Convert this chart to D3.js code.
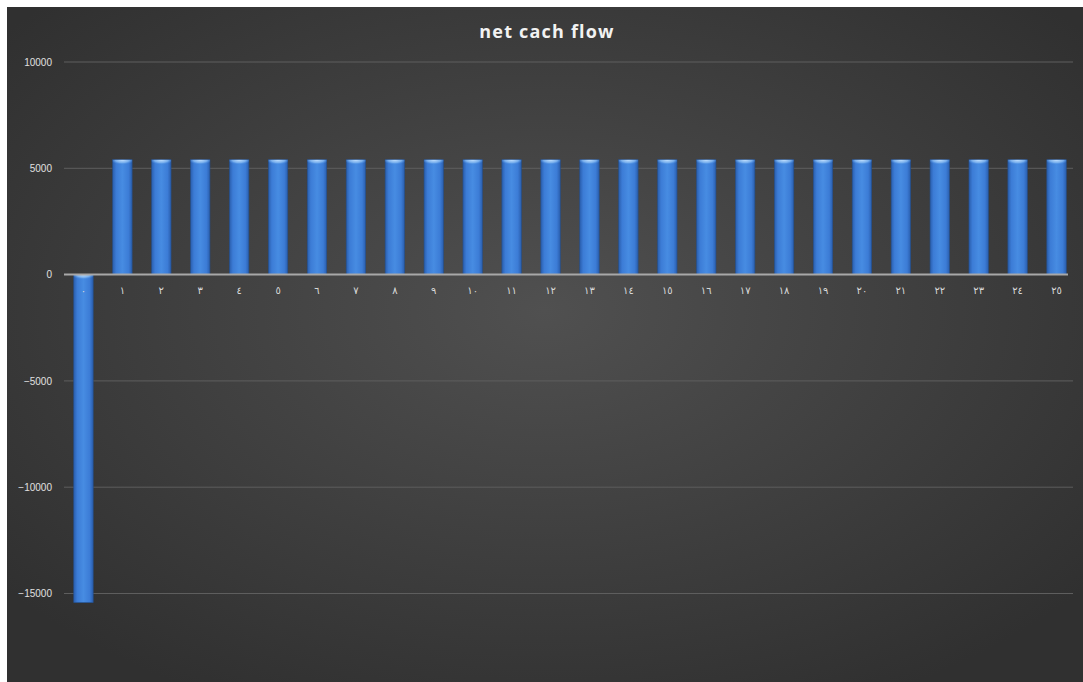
<!DOCTYPE html>
<html><head><meta charset="utf-8">
<script src="https://cdn.jsdelivr.net/npm/d3@7"></script>
<style>html,body{margin:0;padding:0;background:#fff;}svg{display:block;}</style>
</head><body>
<script>
const title = "net cach flow";
const categories = ["٠","١","٢","٣","٤","٥","٦","٧","٨","٩","١٠","١١","١٢","١٣","١٤","١٥","١٦","١٧","١٨","١٩","٢٠","٢١","٢٢","٢٣","٢٤","٢٥"];
const values = [-15430,5400,5400,5400,5400,5400,5400,5400,5400,5400,5400,5400,5400,5400,5400,5400,5400,5400,5400,5400,5400,5400,5400,5400,5400,5400];
const yTicks = [-15000,-10000,-5000,0,5000,10000];

const W = 1083, H = 682;
const svg = d3.select("body").append("svg").attr("width", W).attr("height", H);
const defs = svg.append("defs");

const bg = defs.append("radialGradient").attr("id","bg").attr("cx","50%").attr("cy","45%").attr("r","65%");
bg.append("stop").attr("offset","0%").attr("stop-color","#505050");
bg.append("stop").attr("offset","100%").attr("stop-color","#303030");

const bar = defs.append("linearGradient").attr("id","bar").attr("x1","0").attr("x2","1").attr("y1","0").attr("y2","0");
bar.append("stop").attr("offset","0%").attr("stop-color","#2a5ead");
bar.append("stop").attr("offset","18%").attr("stop-color","#3c7cd6");
bar.append("stop").attr("offset","50%").attr("stop-color","#478ce2");
bar.append("stop").attr("offset","82%").attr("stop-color","#3c7cd6");
bar.append("stop").attr("offset","100%").attr("stop-color","#2a5ead");

const cap = defs.append("radialGradient").attr("id","cap").attr("cx","50%").attr("cy","0%").attr("r","60%");
cap.append("stop").attr("offset","0%").attr("stop-color","#c8e4ff");
cap.append("stop").attr("offset","60%").attr("stop-color","#84b8f0").attr("stop-opacity",0.85);
cap.append("stop").attr("offset","100%").attr("stop-color","#478ce2").attr("stop-opacity",0);

svg.append("rect").attr("x",7).attr("y",7).attr("width",W-7).attr("height",H-7).attr("fill","url(#bg)");

const x = d3.scaleBand().domain(categories).range([64, 1076]).paddingInner(0.5).paddingOuter(0.25);
const y = d3.scaleLinear().domain([-20000, 10000]).range([699.8, 62]);

const g = svg.append("g");
g.selectAll("line.grid").data(yTicks.filter(d=>d!==0)).join("line")
  .attr("x1",64).attr("x2",1073)
  .attr("y1",d=>y(d)).attr("y2",d=>y(d))
  .attr("stroke","#5e5e5e").attr("stroke-width",1);

const yAxis = d3.axisLeft(y).tickValues(yTicks).tickSize(0).tickPadding(0).tickFormat(d3.format("d"));
const ya = svg.append("g").attr("transform","translate(52,0)").call(yAxis);
ya.select(".domain").remove();
ya.selectAll("text").attr("fill","#e0e0e0").attr("font-family","Liberation Sans, Arial, sans-serif").attr("font-size",10);

const bars = g.selectAll("g.bar").data(values).join("g");
bars.append("rect")
  .attr("x",(d,i)=>x(categories[i]))
  .attr("width",x.bandwidth())
  .attr("y",d=>Math.min(y(d),y(0)))
  .attr("height",d=>Math.abs(y(d)-y(0)))
  .attr("fill","url(#bar)")
  .attr("stroke","#24508f").attr("stroke-width",0.6);
bars.append("rect")
  .attr("x",(d,i)=>x(categories[i]))
  .attr("width",x.bandwidth())
  .attr("y",d=>d>0?y(d):y(0))
  .attr("height",8)
  .attr("fill","url(#cap)");

svg.append("line").attr("x1",64).attr("x2",1068).attr("y1",y(0)).attr("y2",y(0))
  .attr("stroke","#a8a8a8").attr("stroke-width",2);

const xAxis = d3.axisBottom(x).tickSize(0).tickPadding(0);
const xa = svg.append("g").attr("transform",`translate(0,${y(0)+19})`).call(xAxis);
xa.select(".domain").remove();
xa.selectAll("text").attr("fill","#d9d9d9").attr("font-family","DejaVu Sans, sans-serif").attr("font-size",10).attr("dy","0");

svg.append("text").attr("x",547).attr("y",38).attr("text-anchor","middle")
  .attr("fill","#f2f2f2").attr("font-family","Open Sans, DejaVu Sans, sans-serif")
  .attr("font-weight","bold").attr("font-size",18).attr("letter-spacing","1.2px").text(title);
</script>
</body></html>
